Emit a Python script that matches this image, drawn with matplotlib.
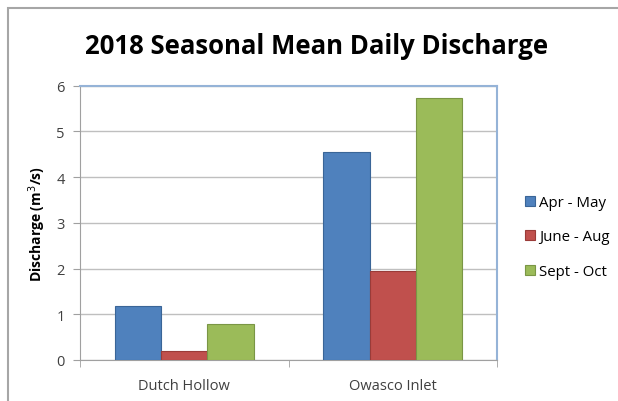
import numpy as np
import matplotlib.pyplot as plt
from matplotlib.patches import Rectangle

sites = ["Dutch Hollow", "Owasco Inlet"]
seasons = ["Apr - May", "June - Aug", "Sept - Oct"]
apr_may = [1.19, 4.55]
june_aug = [0.20, 1.95]
sept_oct = [0.79, 5.73]

colores = ["#4F81BD", "#C0504D", "#9BBB59"]
bordes = ["#3A6597", "#9A3B38", "#7A9645"]

plt.rcParams['font.family'] = ['Open Sans', 'DejaVu Sans']

fig = plt.figure(figsize=(6.18, 4.02), dpi=100)
W, H = 618, 402
ax = fig.add_axes([80 / W, 1 - 361 / H, 417 / W, (361 - 86.7) / H])

# marco gris del grafico
fig.patches.append(Rectangle((7.5 / W, -0.1), 1.2, 1 - 9 / H + 0.1, transform=fig.transFigure,
                             fill=False, edgecolor="#A6A6A6", linewidth=1.5))

x = np.arange(len(sites))
ancho = 0.223
for k, vals in enumerate([apr_may, june_aug, sept_oct]):
    ax.bar(x + (k - 1) * ancho, vals, ancho, color=colores[k], edgecolor=bordes[k],
           linewidth=0.8, label=seasons[k], zorder=3)

ax.set_xlim(-0.5, 1.5)
ax.set_ylim(0, 6)
ax.set_yticks(range(7))
ax.yaxis.grid(True, color="#BFBFBF", linewidth=1, zorder=0)
ax.set_xticks(x)
ax.set_xticklabels(sites, fontsize=10.5, color="#404040")
ax.tick_params(axis='x', length=0, pad=13)
ax.set_xticks([-0.5, 0.5, 1.5], minor=True)
ax.tick_params(axis='x', which='minor', length=5, color="#A0A0A0", direction='out')
ax.tick_params(axis='y', length=5, color="#A0A0A0", labelsize=10.5, labelcolor="#404040", pad=6)

for s in ["left", "bottom"]:
    ax.spines[s].set_color("#A0A0A0")
for s in ["top", "right"]:
    ax.spines[s].set_color("#95B3D7")
    ax.spines[s].set_linewidth(1.5)

ax.set_ylabel("Discharge (m$^3$/s)", fontsize=10, fontweight='bold', labelpad=6)

fig.text(0.513, 1 - 54 / H, "2018 Seasonal Mean Daily Discharge", ha='center', va='baseline',
         fontsize=18.5, fontweight='bold')

fig.legend(loc='center left', bbox_to_anchor=(519 / W, 1 - 238 / H), frameon=False,
           fontsize=10.8, handlelength=0.65, handleheight=0.65, handletextpad=0.3,
           labelspacing=1.3, borderaxespad=0)

fig.savefig("out.png", dpi=100)
